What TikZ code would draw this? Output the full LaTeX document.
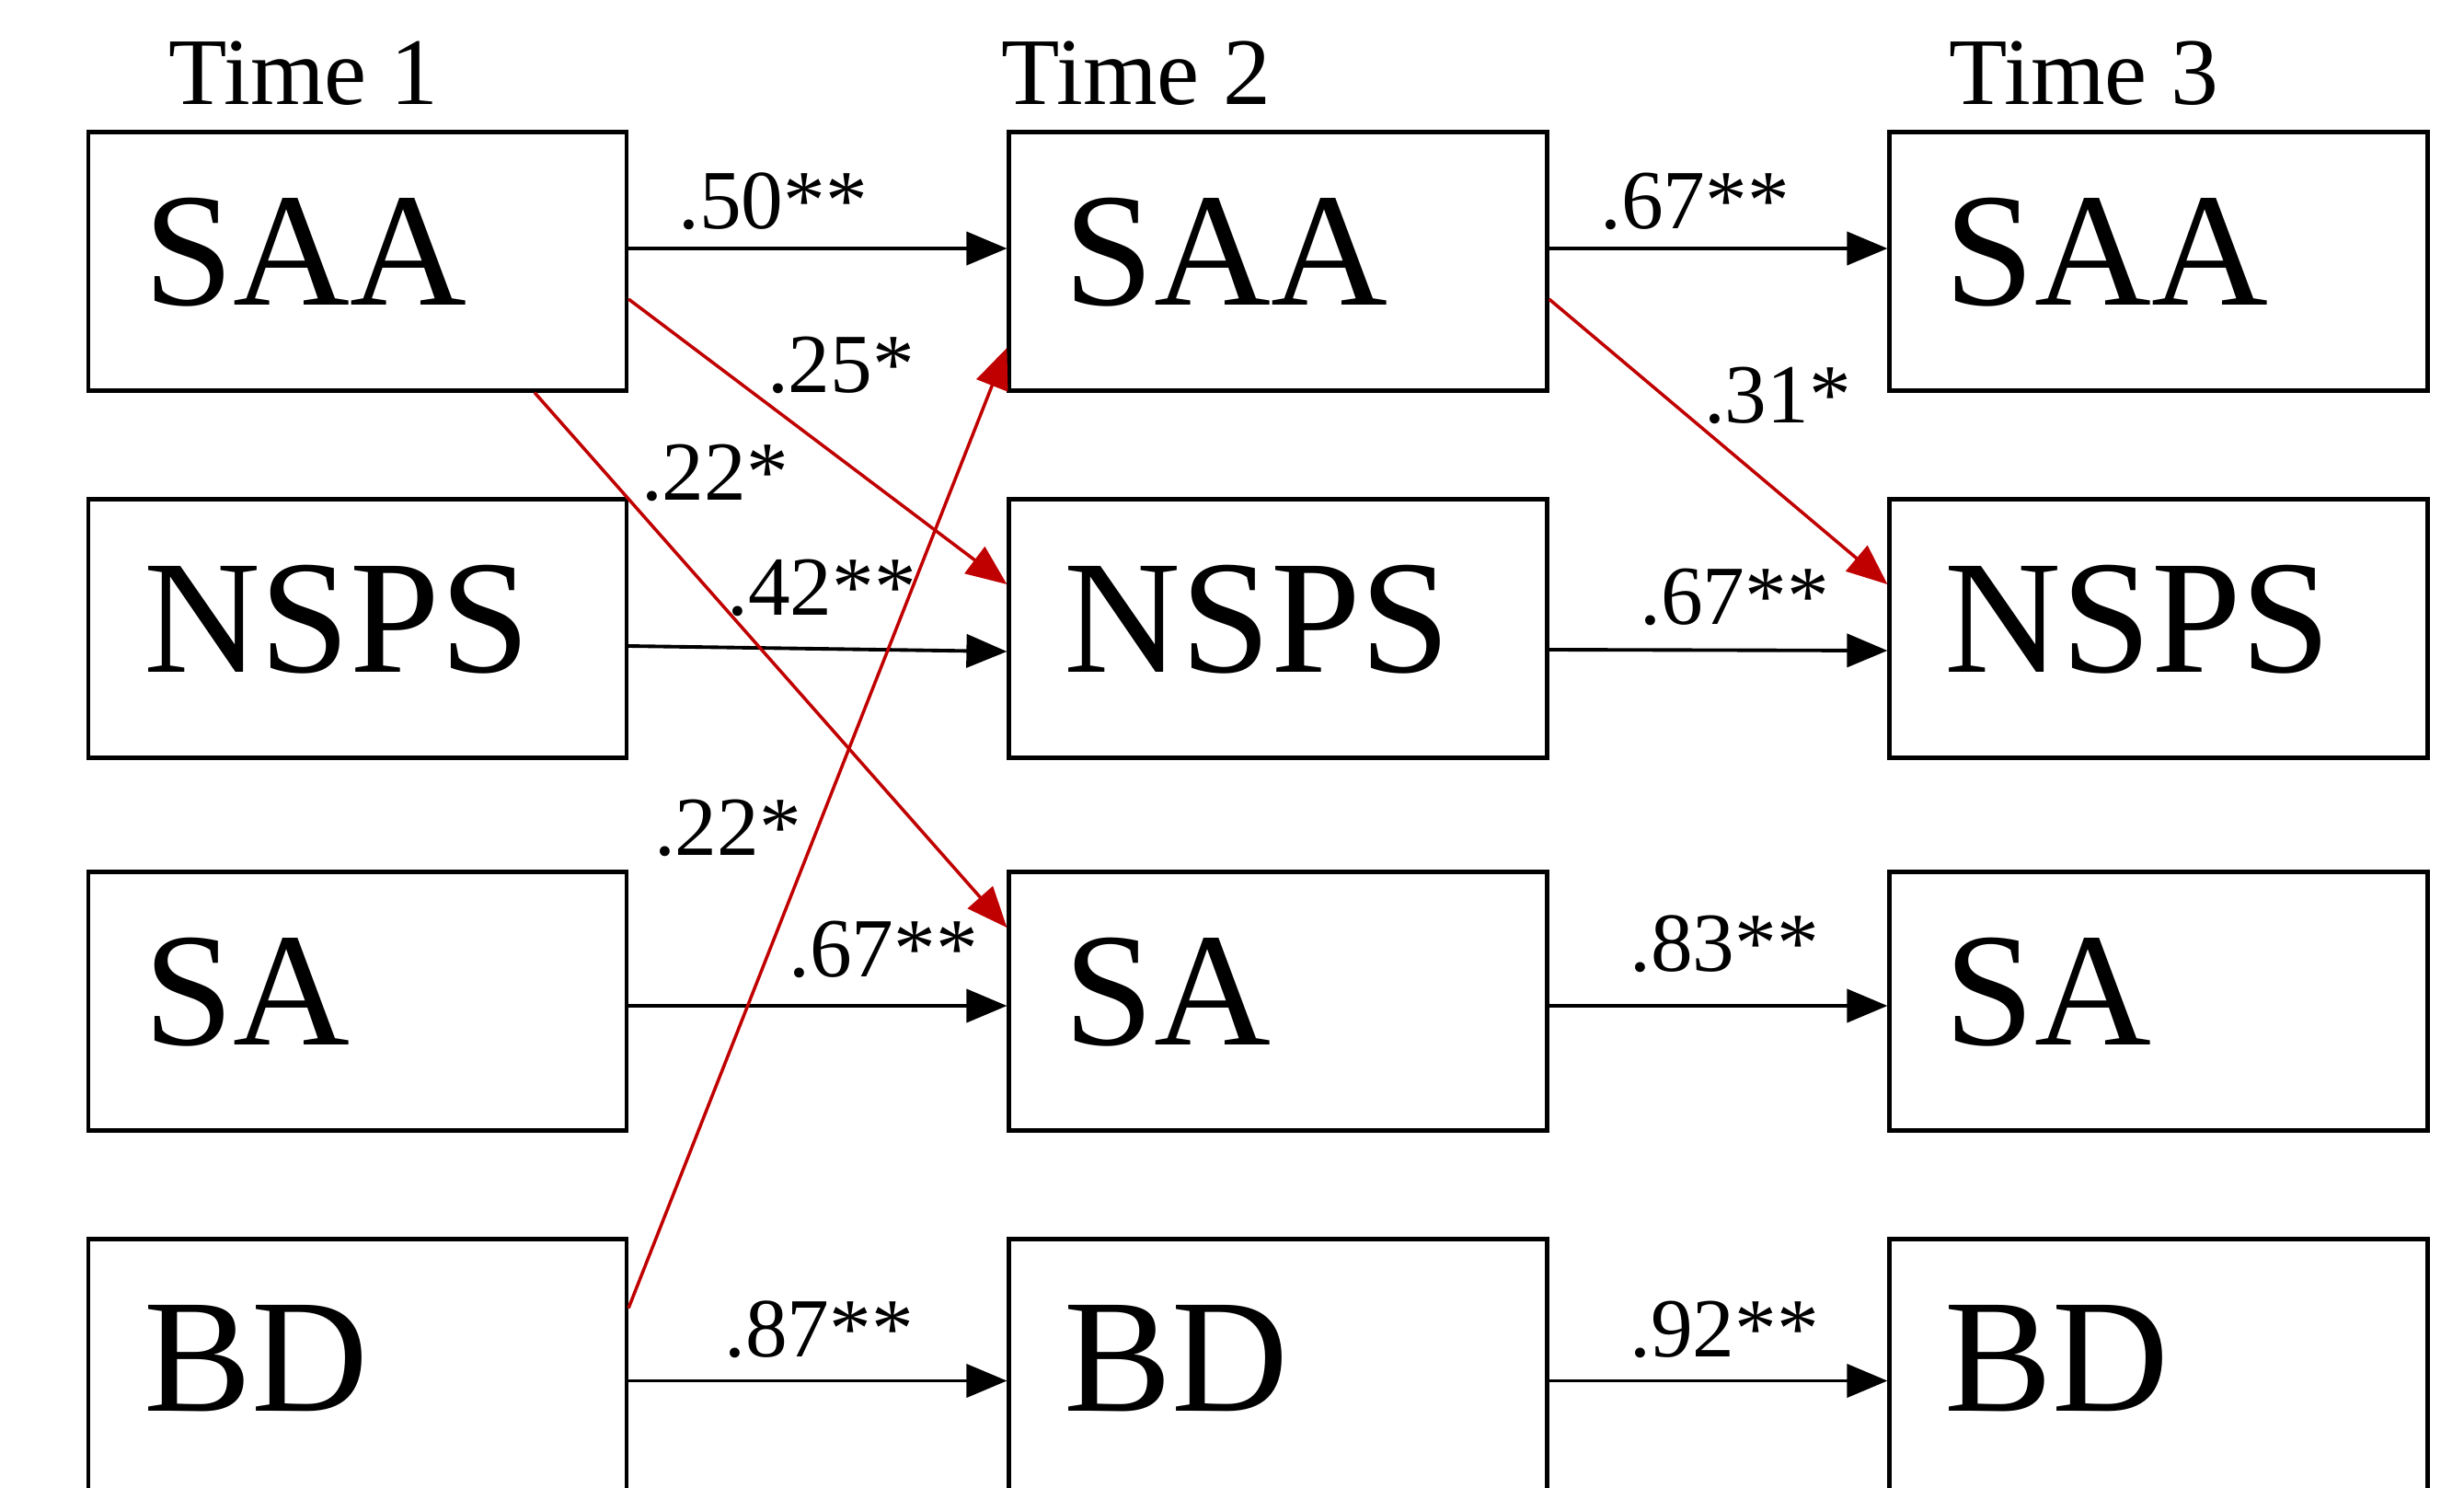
\documentclass[tikz,border=0pt]{standalone}
\usepackage{fontspec}
\setmainfont{Liberation Serif}
\usetikzlibrary{arrows.meta}
\definecolor{crossred}{RGB}{192,0,0}

\tikzset{
  var/.style={draw, rectangle, line width=1.2pt, minimum width=5.85cm, minimum height=2.81cm,
    text width=4.65cm, inner xsep=0.6cm, align=left, text depth=0.22cm,
    font=\fontsize{50}{60}\selectfont},
  wave/.style={anchor=base west, inner sep=0pt, font=\fontsize{29.5}{34}\selectfont},
  coef/.style={inner sep=0pt, font=\fontsize{26}{30}\selectfont},
  stab/.style={-{Triangle[length=0.44cm,width=0.36cm]}, line width=1.1pt},
  cross/.style={-{Triangle[length=0.44cm,width=0.36cm]}, line width=1pt, crossred}
}

\begin{document}
\begin{tikzpicture}
            \path[use as bounding box, clip] (0,0) rectangle (26.78,-16.16);

            \node[wave] (T1) at (1.83,-1.13) {Time 1};
            \node[wave] (T2) at (10.88,-1.13) {Time 2};
            \node[wave] (T3) at (21.18,-1.13) {Time 3};

            \node[var] (SAA1) at (3.885,-2.84) {SAA};
            \node[var] (NSPS1) at (3.885,-6.83) {NSPS};
            \node[var] (SA1) at (3.885,-10.88) {SA};
            \node[var] (BD1) at (3.885,-14.87) {BD};

            \node[var] (SAA2) at (13.89,-2.84) {SAA};
            \node[var] (NSPS2) at (13.89,-6.83) {NSPS};
            \node[var] (SA2) at (13.89,-10.88) {SA};
            \node[var] (BD2) at (13.89,-14.87) {BD};

            \node[var] (SAA3) at (23.46,-2.84) {SAA};
            \node[var] (NSPS3) at (23.46,-6.83) {NSPS};
            \node[var] (SA3) at (23.46,-10.88) {SA};
            \node[var] (BD3) at (23.46,-14.87) {BD};

            % stability paths
            \draw[stab] ([yshift=0.14cm]SAA1.east) -- ([yshift=0.14cm]SAA2.west);
            \draw[stab] ([yshift=0.14cm]SAA2.east) -- ([yshift=0.14cm]SAA3.west);
            \draw[stab] ([yshift=-0.19cm]NSPS1.east) -- ([yshift=-0.25cm]NSPS2.west);
            \draw[stab] ([yshift=-0.23cm]NSPS2.east) -- ([yshift=-0.24cm]NSPS3.west);
            \draw[stab] ([yshift=-0.05cm]SA1.east) -- ([yshift=-0.05cm]SA2.west);
            \draw[stab] ([yshift=-0.05cm]SA2.east) -- ([yshift=-0.05cm]SA3.west);
            \draw[stab] ([yshift=-0.135cm]BD1.east) -- ([yshift=-0.135cm]BD2.west);
            \draw[stab] ([yshift=-0.135cm]BD2.east) -- ([yshift=-0.135cm]BD3.west);

            % cross-lagged paths
            \draw[cross] ([yshift=-0.41cm]SAA1.east) -- ([yshift=0.48cm]NSPS2.west);
            \draw[cross] ([xshift=1.925cm]SAA1.south) -- ([yshift=0.80cm]SA2.west);
            \draw[cross] ([yshift=0.655cm]BD1.east) -- ([yshift=-0.94cm]SAA2.west);
            \draw[cross] ([yshift=-0.41cm]SAA2.east) -- ([yshift=0.48cm]NSPS3.west);

            \node[coef] (c50) at (8.40,-2.19) {.50**};
            \node[coef] (c67a) at (18.42,-2.19) {.67**};
            \node[coef] (c25) at (9.14,-3.97) {.25*};
            \node[coef] (c22a) at (7.77,-5.14) {.22*};
            \node[coef] (c42) at (8.93,-6.39) {.42**};
            \node[coef] (c67b) at (18.85,-6.49) {.67**};
            \node[coef] (c22b) at (7.91,-9.00) {.22*};
            \node[coef] (c67c) at (9.60,-10.32) {.67**};
            \node[coef] (c83) at (18.74,-10.26) {.83**};
            \node[coef] (c31) at (19.32,-4.30) {.31*};
            \node[coef] (c87) at (8.90,-14.45) {.87**};
            \node[coef] (c92) at (18.74,-14.45) {.92**};
        \end{tikzpicture}
\end{document}
